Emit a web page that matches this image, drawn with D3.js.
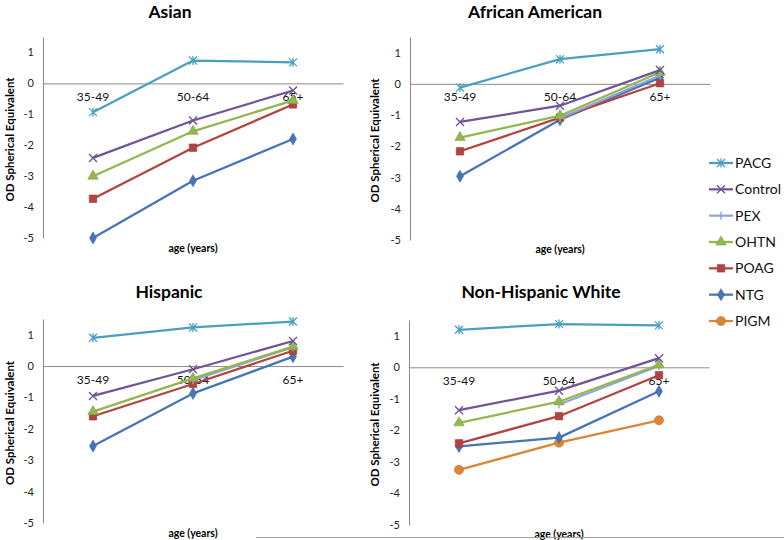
<!DOCTYPE html>
<html>
<head>
<meta charset="utf-8">
<script src="https://cdn.jsdelivr.net/npm/d3@7"></script>
<style>
  html, body { margin: 0; padding: 0; background: #fff; }
  svg { display: block; font-family: Lato, "Open Sans", sans-serif; }
</style>
</head>
<body>
<svg id="chart" width="784" height="540"></svg>
<script>
// ---------- data ----------
const categories = ["35-49", "50-64", "65+"];
const groups = ["PACG", "Control", "PEX", "OHTN", "POAG", "NTG", "PIGM"];
const panelTitles = ["Asian", "African American", "Hispanic", "Non-Hispanic White"];
const yTicks = [1, 0, -1, -2, -3, -4, -5];
const yDomain = [-5, 1.5];

const asianValues = {
  PACG:    [-0.93, 0.74, 0.68],
  Control: [-2.41, -1.20, -0.23],
  PEX:     [null, null, null],
  OHTN:    [-3.00, -1.55, -0.55],
  POAG:    [-3.73, -2.08, -0.68],
  NTG:     [-5.00, -3.15, -1.80],
  PIGM:    [null, null, null]
};
const africanAmericanValues = {
  PACG:    [-0.12, 0.79, 1.11],
  Control: [-1.22, -0.70, 0.44],
  PEX:     [null, -1.10, 0.27],
  OHTN:    [-1.72, -1.02, 0.37],
  POAG:    [-2.16, -1.08, 0.02],
  NTG:     [-2.96, -1.15, 0.20],
  PIGM:    [null, null, null]
};
const hispanicValues = {
  PACG:    [0.90, 1.23, 1.42],
  Control: [-0.95, -0.10, 0.80],
  PEX:     [null, -0.45, 0.60],
  OHTN:    [-1.45, -0.39, 0.62],
  POAG:    [-1.60, -0.57, 0.49],
  NTG:     [-2.55, -0.87, 0.30],
  PIGM:    [null, null, null]
};
const nonHispanicWhiteValues = {
  PACG:    [1.19, 1.37, 1.33],
  Control: [-1.36, -0.74, 0.29],
  PEX:     [null, -1.18, 0.04],
  OHTN:    [-1.76, -1.09, 0.08],
  POAG:    [-2.41, -1.55, -0.25],
  NTG:     [-2.51, -2.23, -0.76],
  PIGM:    [-3.25, -2.39, -1.68]
};
const panelValues = [asianValues, africanAmericanValues, hispanicValues, nonHispanicWhiteValues];

// ---------- styles ----------
const colors = {
  PACG: "#4A9FC0", Control: "#6F5596", PEX: "#8FA4D8", OHTN: "#93B64F",
  POAG: "#B24340", NTG: "#4674B5", PIGM: "#DB8538"
};
const markerType = {
  PACG: "star", Control: "x", PEX: "plus", OHTN: "triangle",
  POAG: "square", NTG: "diamond", PIGM: "circle"
};
const drawOrder = ["PIGM", "NTG", "POAG", "PEX", "OHTN", "Control", "PACG"];

// layout of the four panels
const layouts = [
  { ax: 43,  right: 343, top: 37,  bottom: 238, titleX: 170, titleY: 18,  ylabX: 9,   xlabY: 252 },
  { ax: 410, right: 710, top: 37,  bottom: 240, titleX: 535, titleY: 18,  ylabX: 374, xlabY: 253 },
  { ax: 43,  right: 343, top: 319, bottom: 523, titleX: 169, titleY: 298, ylabX: 9,   xlabY: 537 },
  { ax: 409, right: 709, top: 320, bottom: 525, titleX: 541, titleY: 298, ylabX: 374, xlabY: 538 }
];

const svg = d3.select("#chart");
const axisColor = "#8a8a8a";

function drawMarker(g, type, color, x, y) {
  const h = 4;
  if (type === "star") {
    g.append("path").attr("d", `M${x-h},${y-h}L${x+h},${y+h}M${x-h},${y+h}L${x+h},${y-h}M${x},${y-h-0.5}L${x},${y+h+0.5}`)
      .attr("stroke", color).attr("stroke-width", 1.3).attr("fill", "none");
  } else if (type === "x") {
    g.append("path").attr("d", `M${x-h},${y-h}L${x+h},${y+h}M${x-h},${y+h}L${x+h},${y-h}`)
      .attr("stroke", color).attr("stroke-width", 1.4).attr("fill", "none");
  } else if (type === "plus") {
    g.append("path").attr("d", `M${x-h},${y}L${x+h},${y}M${x},${y-h}L${x},${y+h}`)
      .attr("stroke", color).attr("stroke-width", 1.4).attr("fill", "none");
  } else {
    const sym = { triangle: [d3.symbolTriangle, 48], square: [d3.symbolSquare, 56],
                  diamond: [d3.symbolDiamond, 42], circle: [d3.symbolCircle, 66] }[type];
    g.append("path").attr("d", d3.symbol().type(sym[0]).size(sym[1])())
      .attr("transform", `translate(${x},${y})`)
      .attr("fill", color).attr("stroke", d3.color(color).darker(0.3)).attr("stroke-width", 0.6);
  }
}

panelValues.forEach((values, i) => {
  const L = layouts[i];
  const g = svg.append("g");
  const x = d3.scaleBand().domain(categories).range([L.ax, L.right]);
  const y = d3.scaleLinear().domain(yDomain).range([L.bottom, L.top]);

  // title
  g.append("text").attr("x", L.titleX).attr("y", L.titleY).attr("text-anchor", "middle")
    .attr("font-size", 17.5).attr("font-weight", "bold").attr("fill", "#000").text(panelTitles[i]);

  // y axis
  const yAxis = d3.axisLeft(y).tickValues(yTicks).tickSize(0).tickPadding(9).tickFormat(d3.format("d"));
  const ya = g.append("g").attr("transform", `translate(${L.ax},0)`).call(yAxis);
  ya.select(".domain").attr("stroke", axisColor).attr("stroke-width", 1);
  ya.selectAll("text").attr("font-size", 11).attr("fill", "#222")
    .attr("font-family", "Lato, 'Open Sans', sans-serif").text(d => d < 0 ? "-" + Math.abs(d) : d);

  // x axis at zero
  const xAxis = d3.axisBottom(x).tickSize(0).tickPadding(9);
  const xa = g.append("g").attr("transform", `translate(0,${y(0)})`).call(xAxis);
  xa.select(".domain").attr("stroke", axisColor).attr("stroke-width", 1);
  xa.selectAll("text").attr("font-size", 12).attr("fill", "#111")
    .attr("font-family", "Lato, 'Open Sans', sans-serif");

  // axis titles
  g.append("text").attr("transform", `translate(${L.ylabX},${(L.top + L.bottom) / 2 + 2}) rotate(-90)`)
    .attr("text-anchor", "middle").attr("dominant-baseline", "central")
    .attr("font-size", 11.5).attr("font-weight", "bold").attr("fill", "#000").text("OD Spherical Equivalent");
  g.append("text").attr("x", (L.ax + L.right) / 2).attr("y", L.xlabY).attr("text-anchor", "middle")
    .attr("font-size", 10.5).attr("font-weight", "bold").attr("fill", "#000").text("age (years)");

  // series
  const line = d3.line().defined(d => d.v !== null)
    .x(d => x(d.c) + x.bandwidth() / 2).y(d => y(d.v));
  drawOrder.forEach(s => {
    const pts = categories.map((c, k) => ({ c, v: values[s][k] }));
    g.append("path").datum(pts).attr("d", line).attr("fill", "none")
      .attr("stroke", colors[s]).attr("stroke-width", 2.25).attr("stroke-linejoin", "round");
    pts.filter(d => d.v !== null).forEach(d =>
      drawMarker(g, markerType[s], colors[s], x(d.c) + x.bandwidth() / 2, y(d.v)));
  });
});

// legend
const legendY = d3.scalePoint().domain(groups).range([163, 321]);
const lg = svg.append("g");
groups.forEach(s => {
  const yy = legendY(s);
  lg.append("line").attr("x1", 709).attr("x2", 733).attr("y1", yy).attr("y2", yy)
    .attr("stroke", colors[s]).attr("stroke-width", 2.25);
  drawMarker(lg, markerType[s], colors[s], 721, yy);
  lg.append("text").attr("x", 735).attr("y", yy + 5).attr("font-size", 14).attr("fill", "#111").text(s);
});

// bottom border fragment
svg.append("line").attr("x1", 256).attr("x2", 784).attr("y1", 537.5).attr("y2", 537.5)
  .attr("stroke", "#a0a0a0").attr("stroke-width", 1);
</script>
</body>
</html>
